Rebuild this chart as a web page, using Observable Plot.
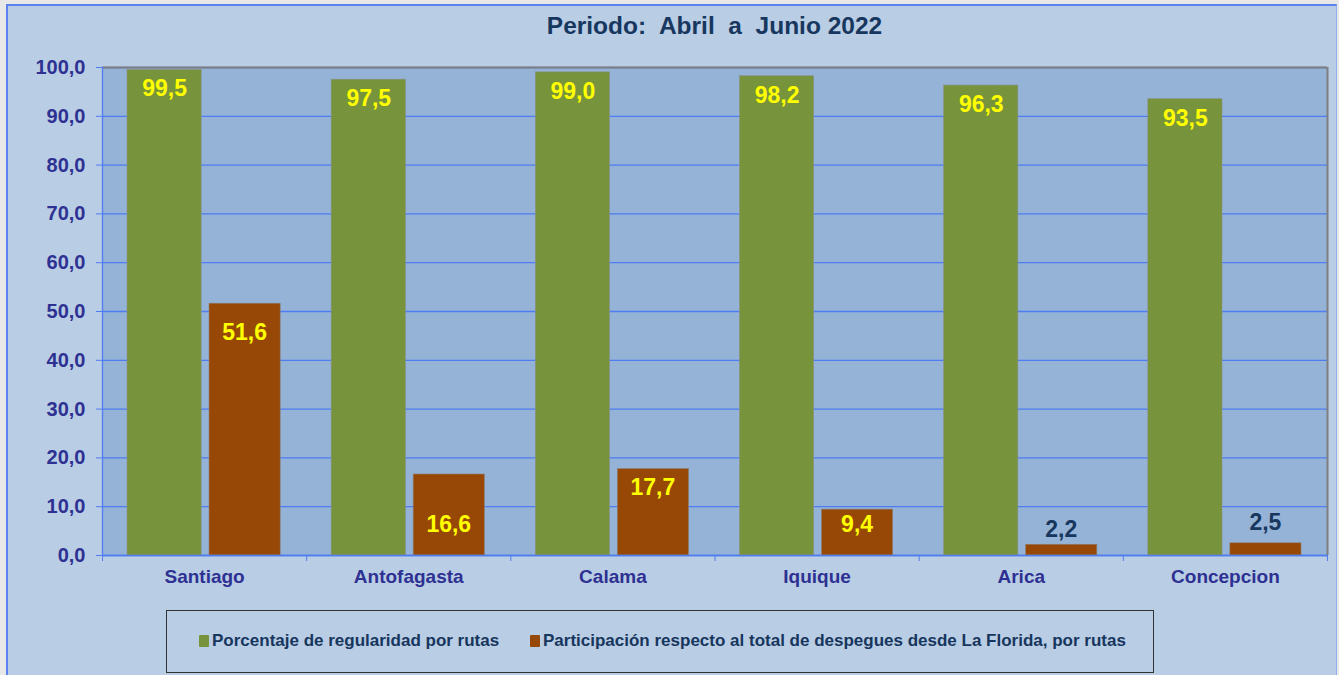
<!DOCTYPE html>
<html>
<head>
<meta charset="utf-8">
<script src="https://cdn.jsdelivr.net/npm/d3@7"></script>
<script src="https://cdn.jsdelivr.net/npm/@observablehq/plot@0.6"></script>
<style>
  html, body { margin: 0; padding: 0; background: #D9D9D9; }
  #wrap { position: relative; width: 1339px; height: 675px; overflow: hidden; background: #E8E8E8; }
  #panel { position: absolute; left: 6px; top: 4px; width: 1331px; height: 671px; background: #B9CDE5;
           border-left: 2px solid #5A82F0; border-top: 2px solid #5A82F0; border-right: 1px solid #8FB0F0; box-sizing: border-box; }
  #title { position: absolute; left: 0; width: 1429px; top: 12px; text-align: center;
           font: bold 24.5px "Liberation Sans", Arial, sans-serif; color: #17375E; white-space: pre; }
  #chart { position: absolute; left: 0; top: 0; }
  #legend { position: absolute; left: 166px; top: 610px; width: 988px; height: 63px; box-sizing: border-box;
            border: 1px solid #333; font: bold 17px "Liberation Sans", Arial, sans-serif; color: #17365D; }
  .item { position: absolute; top: 20px; white-space: nowrap; }
  .sw { display: inline-block; width: 10px; height: 12px; margin-right: 3px; vertical-align: -1px; border-radius: 1px; }
</style>
</head>
<body>
<div id="wrap">
  <div id="panel"></div>
  <div id="chart"></div>
  <div id="title">Periodo:  Abril  a  Junio 2022</div>
  <div id="legend"></div>
</div>
<script>
const categories = ["Santiago", "Antofagasta", "Calama", "Iquique", "Arica", "Concepcion"];
const regularidad = [99.5, 97.5, 99.0, 98.2, 96.3, 93.5];
const participacion = [51.6, 16.6, 17.7, 9.4, 2.2, 2.5];
const seriesNames = ["Porcentaje de regularidad por rutas", "Participación respecto al total de despegues desde La Florida, por rutas"];
const yTicks = [0, 10, 20, 30, 40, 50, 60, 70, 80, 90, 100];

const GREEN = "#77933C", ORANGE = "#974806", BLUE = "#4F7CF0", AXIS_TEXT = "#2E3192";
const fmt = d => d.toFixed(1).replace(".", ",");

const green = categories.map((c, i) => ({i, c, v: regularidad[i]}));
const orange = categories.map((c, i) => ({i, c, v: participacion[i]}));

// label offsets (style only) for orange labels, matching original placement
const orangeDy = [29, 50, 19, 15, -15, -21];

const orangeLabels = orange.map((d, k) => Plot.text([d], {
  x: r => r.i + 0.5, y: "v", text: r => fmt(r.v), dx: 40, dy: orangeDy[k],
  fill: orangeDy[k] < 0 ? "#17375E" : "#FFFF00",
  fontSize: 23, fontWeight: "bold", fontFamily: "Liberation Sans, Arial, sans-serif"
}));

const chart = Plot.plot({
  width: 1339,
  height: 675,
  marginTop: 67,
  marginBottom: 120,
  marginLeft: 102,
  marginRight: 12,
  style: {background: "transparent", fontFamily: "Liberation Sans, Arial, sans-serif"},
  x: {domain: [0, categories.length], axis: null},
  y: {domain: [0, 100], axis: null},
  marks: [
    Plot.frame({fill: "#95B3D7", stroke: null}),
    Plot.gridY(yTicks, {stroke: BLUE, strokeOpacity: 1, strokeWidth: 1.3}),
    Plot.rectY(green, {x1: "i", x2: d => d.i + 1, y: "v", fill: GREEN, insetLeft: 25, insetRight: 105, stroke: "#8A8F80", strokeWidth: 0.6}),
    Plot.rectY(orange, {x1: "i", x2: d => d.i + 1, y: "v", fill: ORANGE, insetLeft: 107, insetRight: 26, stroke: "#8A7F70", strokeWidth: 0.6}),
    Plot.ruleY([100], {stroke: "#7F7F7F", strokeWidth: 2}),
    Plot.ruleX([categories.length], {stroke: "#7F7F7F", strokeWidth: 2}),
    Plot.ruleX([0], {stroke: BLUE, strokeWidth: 1.3}),
    Plot.ruleY([0], {stroke: BLUE, strokeWidth: 1.3}),
    Plot.axisY(yTicks, {tickSize: 6, tickPadding: 11, tickFormat: fmt, stroke: BLUE, fill: AXIS_TEXT,
      fontSize: 20, fontWeight: "bold", label: null}),
    Plot.axisX(d3.range(categories.length + 1), {tickSize: 6, tickFormat: () => "", stroke: BLUE, label: null}),
    Plot.axisX(categories.map((c, i) => i + 0.5), {tickSize: 0, tickPadding: 14, tickFormat: t => categories[t - 0.5],
      fill: AXIS_TEXT, fontSize: 19, fontWeight: "bold", label: null}),
    Plot.text(green, {x: d => d.i + 0.5, y: "v", text: d => fmt(d.v), dx: -40, dy: 19, fill: "#FFFF00",
      fontSize: 23, fontWeight: "bold"}),
    ...orangeLabels
  ]
});
document.getElementById("chart").appendChild(chart);

const legend = document.getElementById("legend");
const colors = [GREEN, ORANGE];
const lefts = [32, 363];
seriesNames.forEach((name, k) => {
  const div = document.createElement("div");
  div.className = "item";
  div.style.left = lefts[k] + "px";
  const sw = document.createElement("span");
  sw.className = "sw";
  sw.style.background = colors[k];
  div.appendChild(sw);
  div.appendChild(document.createTextNode(name));
  legend.appendChild(div);
});
</script>
</body>
</html>
